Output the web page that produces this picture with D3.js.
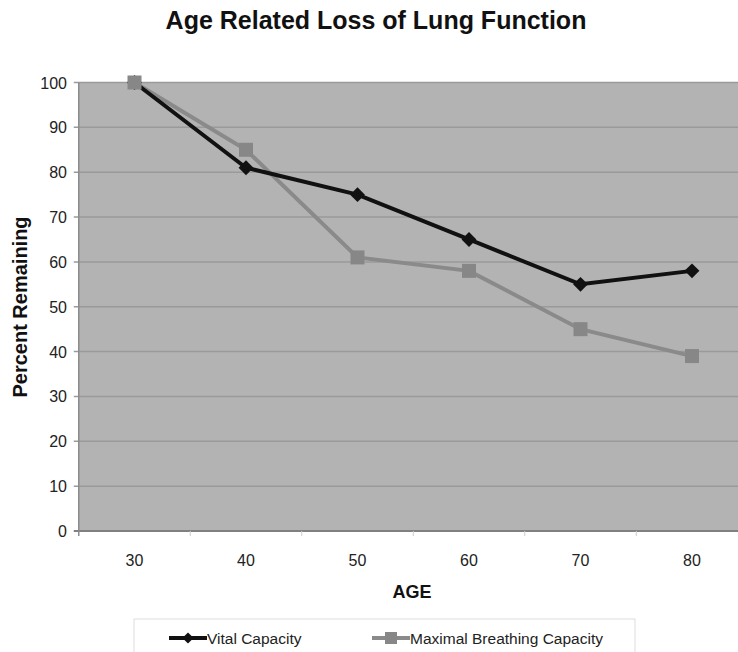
<!DOCTYPE html>
<html><head><meta charset="utf-8">
<script src="https://cdn.jsdelivr.net/npm/d3@7"></script>
<style>body{margin:0;background:#fff;}svg{display:block;font-family:"Liberation Sans",Arial,sans-serif;}</style>
</head><body>
<svg id="c" width="738" height="652"></svg>
<script>
const ages = ["30","40","50","60","70","80"];
const vitalCapacity = [100, 81, 75, 65, 55, 58];
const maximalBreathing = [100, 85, 61, 58, 45, 39];
const yTicks = [0,10,20,30,40,50,60,70,80,90,100];
const seriesNames = ["Vital Capacity","Maximal Breathing Capacity"];

(function(){
const svg = d3.select("#c");
const pL = 78.75, pR = 747.75, pT = 82.5, pB = 531;
const x = d3.scaleBand().domain(ages).range([pL, pR]);
const y = d3.scaleLinear().domain([0,100]).range([pB, pT]);

svg.append("rect").attr("x",pL).attr("y",pT).attr("width",pR-pL).attr("height",pB-pT).attr("fill","#b3b3b3");
svg.append("g").selectAll("line").data(yTicks).join("line")
  .attr("x1",pL-5).attr("x2",pR).attr("y1",d=>y(d)).attr("y2",d=>y(d))
  .attr("stroke",d=>d===0?"#808080":"#9a9a9a").attr("stroke-width",d=>d===0?2:1.5);
svg.append("line").attr("x1",pL).attr("x2",pL).attr("y1",pT).attr("y2",pB+5).attr("stroke","#8c8c8c").attr("stroke-width",1.5);
svg.append("g").selectAll("line").data(ages.slice(1)).join("line")
  .attr("x1",d=>x(d)).attr("x2",d=>x(d)).attr("y1",pB).attr("y2",pB+5).attr("stroke","#ccc");

svg.append("g").selectAll("text").data(yTicks).join("text")
  .attr("x",67).attr("y",d=>y(d)+6).attr("text-anchor","end").attr("font-size",16).attr("fill","#222").text(d=>d);
svg.append("g").selectAll("text").data(ages).join("text")
  .attr("x",d=>x(d)+x.bandwidth()/2).attr("y",566).attr("text-anchor","middle").attr("font-size",16).attr("fill","#222").text(d=>d);

const line = d3.line().x((d,i)=>x(ages[i])+x.bandwidth()/2).y(d=>y(d));
svg.append("path").datum(maximalBreathing).attr("d",line).attr("fill","none").attr("stroke","#8a8a8a").attr("stroke-width",4);
svg.append("path").datum(vitalCapacity).attr("d",line).attr("fill","none").attr("stroke","#111").attr("stroke-width",4);
svg.append("g").selectAll("path").data(vitalCapacity).join("path")
  .attr("d",d3.symbol(d3.symbolDiamond2,140))
  .attr("transform",(d,i)=>`translate(${x(ages[i])+x.bandwidth()/2},${y(d)})`).attr("fill","#111");
svg.append("g").selectAll("rect").data(maximalBreathing).join("rect")
  .attr("x",(d,i)=>x(ages[i])+x.bandwidth()/2-7).attr("y",d=>y(d)-7).attr("width",14).attr("height",14).attr("fill","#878787");

svg.append("text").attr("x",376).attr("y",29).attr("text-anchor","middle").attr("font-size",25).attr("font-weight","bold").attr("fill","#111").text("Age Related Loss of Lung Function");
svg.append("text").attr("transform","translate(27,307) rotate(-90)").attr("text-anchor","middle").attr("font-size",20).attr("font-weight","bold").attr("fill","#111").text("Percent Remaining");
svg.append("text").attr("x",412).attr("y",598).attr("text-anchor","middle").attr("font-size",18).attr("font-weight","bold").attr("fill","#111").text("AGE");

svg.append("rect").attr("x",134).attr("y",619).attr("width",501).attr("height",40).attr("fill","#fff").attr("stroke","#ddd");
const lg = svg.append("g");
lg.append("line").attr("x1",169).attr("x2",207).attr("y1",638).attr("y2",638).attr("stroke","#111").attr("stroke-width",4);
lg.append("path").attr("d",d3.symbol(d3.symbolDiamond2,80)).attr("transform","translate(188,638)").attr("fill","#111");
lg.append("text").attr("x",207).attr("y",644).attr("font-size",15.5).attr("fill","#222").text(seriesNames[0]);
lg.append("line").attr("x1",372).attr("x2",410).attr("y1",638).attr("y2",638).attr("stroke","#8a8a8a").attr("stroke-width",4);
lg.append("rect").attr("x",385).attr("y",632).attr("width",12).attr("height",12).attr("fill","#878787");
lg.append("text").attr("x",410).attr("y",644).attr("font-size",15.5).attr("fill","#222").text(seriesNames[1]);
})();
</script>
</body></html>
